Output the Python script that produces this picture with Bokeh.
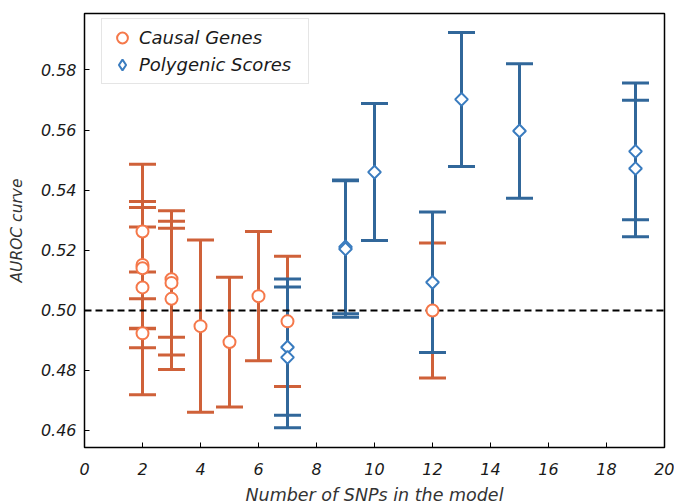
from bokeh.plotting import figure
from bokeh.models import ColumnDataSource, Legend, LegendItem, FixedTicker, Range1d
from bokeh.embed import file_html
from bokeh.resources import INLINE
import numpy as np

# ---- data ----
cg_x = [2, 2, 2, 2, 2, 3, 3, 3, 4, 5, 6, 7, 12]
cg_auc = [0.5262, 0.5151, 0.5140, 0.5076, 0.4923, 0.5103, 0.5091, 0.5038,
          0.4947, 0.4894, 0.5047, 0.4963, 0.4999]
cg_err = [0.0224, 0.0211, 0.0202, 0.0201, 0.0204, 0.0193, 0.0240, 0.0235,
          0.0287, 0.0216, 0.0215, 0.0217, 0.0225]

ps_x = [7, 7, 9, 9, 10, 12, 13, 15, 19, 19]
ps_auc = [0.4877, 0.4843, 0.5211, 0.5204, 0.5460, 0.5093, 0.5702, 0.5597,
          0.5529, 0.5472]
ps_err = [0.0227, 0.0234, 0.0223, 0.0227, 0.0228, 0.0234, 0.0223, 0.0224,
          0.0228, 0.0227]

chance_level = [0.5]
x_ticks = [0, 2, 4, 6, 8, 10, 12, 14, 16, 18, 20]
y_ticks = [0.46, 0.48, 0.50, 0.52, 0.54, 0.56, 0.58]

# ---- styles ----
CG_BAR = "#cf6139"
CG_MARK = "#f5784a"
PS_BAR = "#31679a"
PS_MARK = "#3a7cbf"
FONT = "DejaVu Sans"


def make_src(x, y, e):
    y = np.array(y)
    e = np.array(e)
    return ColumnDataSource(dict(x=x, y=y, lo=y - e, hi=y + e))


cg = make_src(cg_x, cg_auc, cg_err)
ps = make_src(ps_x, ps_auc, ps_err)

p = figure(frame_width=580, frame_height=434, output_backend="svg",
           toolbar_location=None, x_range=Range1d(0, 20),
           y_range=Range1d(0.4543, 0.5988),
           min_border_left=84, min_border_right=10, min_border_top=13,
           min_border_bottom=56)

p.xgrid.visible = False
p.ygrid.visible = False
p.outline_line_color = "black"
p.outline_line_width = 1.5
p.background_fill_color = "white"
p.border_fill_color = "white"

# error bars (orange first, then blue)
for src, col in ((cg, CG_BAR), (ps, PS_BAR)):
    p.segment(x0="x", y0="lo", x1="x", y1="hi", source=src,
              line_color=col, line_width=3)
    p.scatter(x="x", y="lo", source=src, marker="dash", size=27,
              line_color=col, line_width=3)
    p.scatter(x="x", y="hi", source=src, marker="dash", size=27,
              line_color=col, line_width=3)

# chance line
p.hspan(y=chance_level, line_color="black", line_width=1.8,
        line_dash="7 4")

r_cg = p.scatter(x="x", y="y", source=cg, marker="circle", size=12,
                 fill_color="white", line_color=CG_MARK, line_width=2)
# legend proxy (legend glyphs are drawn unrotated); fully hidden beneath
# the rotated-square markers drawn on top of it
r_ps_leg = p.scatter(x="x", y="y", source=ps, marker="diamond", size=10,
                     fill_color="white", line_color=PS_MARK, line_width=2)
r_ps = p.scatter(x="x", y="y", source=ps, marker="square", angle=np.pi / 4,
                 size=9, fill_color="white", line_color=PS_MARK,
                 line_width=2)

legend = Legend(items=[LegendItem(label="Causal Genes", renderers=[r_cg]),
                       LegendItem(label="Polygenic Scores",
                                  renderers=[r_ps_leg])],
                location=(17, 363), padding=5, spacing=0,
                glyph_width=30, glyph_height=27, label_height=27,
                label_width=164, label_standoff=2,
                label_text_font=FONT, label_text_font_style="italic",
                label_text_font_size="18px", label_text_color="#1a1a1a",
                border_line_color="#cccccc", border_line_width=1,
                background_fill_color="white", background_fill_alpha=0.85,
                margin=0)
p.add_layout(legend)

for ax in (p.xaxis[0], p.yaxis[0]):
    ax.axis_line_color = None
    ax.major_tick_in = 5
    ax.major_tick_out = 0
    ax.minor_tick_line_color = None
    ax.major_tick_line_color = "black"
    ax.major_tick_line_width = 1
    ax.major_label_text_font = FONT
    ax.major_label_text_font_style = "italic"
    ax.major_label_text_font_size = "16px"
    ax.major_label_text_color = "#1a1a1a"
    ax.axis_label_text_font = FONT
    ax.axis_label_text_font_style = "italic"
    ax.axis_label_text_color = "#333333"

p.xaxis.ticker = FixedTicker(ticks=x_ticks)
p.yaxis.ticker = FixedTicker(ticks=y_ticks)
p.yaxis.major_label_overrides = {t: f"{t:.2f}" for t in y_ticks}
p.xaxis.major_label_standoff = 15
p.yaxis.major_label_standoff = 8
p.xaxis.axis_label = "Number of SNPs in the model"
p.yaxis.axis_label = "AUROC curve"
p.xaxis.axis_label_text_font_size = "17.5px"
p.yaxis.axis_label_text_font_size = "15.5px"
p.xaxis.axis_label_standoff = 7
p.yaxis.axis_label_standoff = 12

open("out.html", "w").write(file_html(p, INLINE))
